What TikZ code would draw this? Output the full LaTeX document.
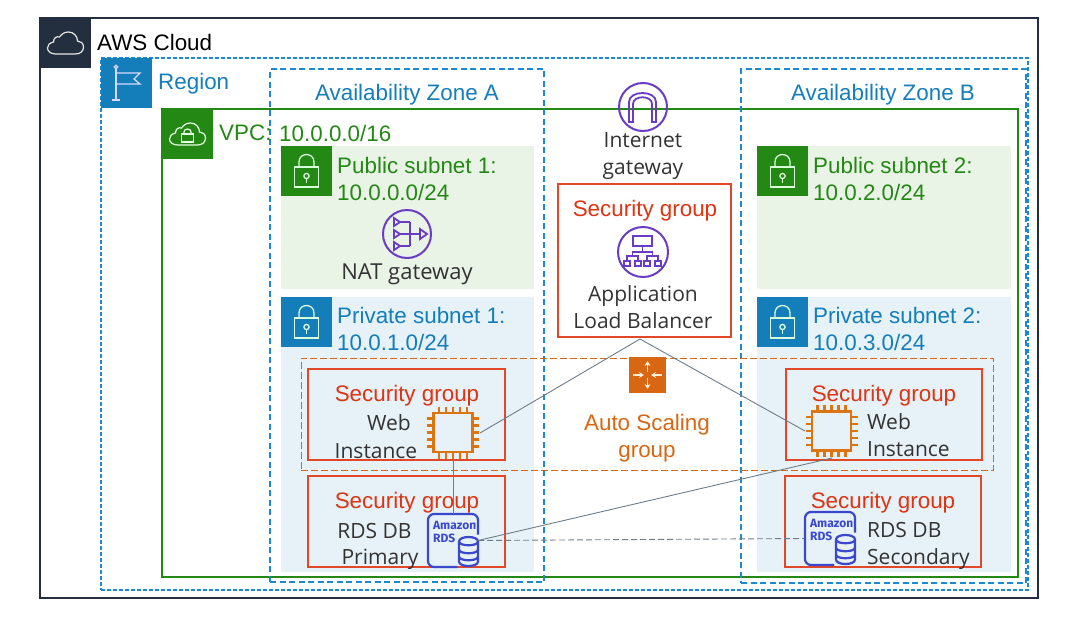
\documentclass[tikz,border=0pt]{standalone}
\usepackage{fontspec}
\setmainfont{Liberation Sans}
\newfontfamily\lightfont{Open Sans}
\newfontfamily\rdsfont{Fira Sans}
\usetikzlibrary{calc,arrows.meta}
\definecolor{awsnavy}{HTML}{232F3E}
\definecolor{awsblue}{HTML}{147EBA}
\definecolor{awsdash}{HTML}{1B8AD0}
\definecolor{awsgreen}{HTML}{248814}
\definecolor{awsred}{HTML}{DF3312}
\definecolor{awsorange}{HTML}{D86613}
\definecolor{awspurple}{HTML}{693CC5}
\definecolor{awsrds}{HTML}{3B48CC}
\definecolor{pubfill}{HTML}{E9F3E6}
\definecolor{privfill}{HTML}{E6F2F8}
\definecolor{linkgrey}{HTML}{6F7C8A}
\newcommand{\cbox}[6]{%
  \pgfmathsetmacro\cboxx{(#3+#5)/2}\pgfmathsetmacro\cboxy{(#4+#6)/2}%
  \pgfmathsetmacro\cboxw{#5-#3}\pgfmathsetmacro\cboxh{#6-#4}%
  \node[#2,minimum width=\cboxw pt,minimum height=\cboxh pt] (#1) at (\cboxx,\cboxy) {};}
\newcommand{\cloudpath}{(-10,11) -- (10,11) .. controls (15,11) and (18,8) .. (18,4) .. controls (18,0) and (15,-2) .. (12,-2) .. controls (12,-7) and (8,-11) .. (3,-11) .. controls (-1,-11) and (-4,-9) .. (-6,-6) .. controls (-9,-7) and (-12,-5) .. (-12,-1) .. controls (-16,0) and (-18,2) .. (-18,5) .. controls (-18,8) and (-15,11) .. (-10,11) -- cycle}
\newcommand{\lockicon}[2]{\begin{scope}[shift={(#1,#2)},white!85!green,line width=1.3pt]
  \draw (-12,-4) rectangle (12,16);
  \draw (-7.5,-4) -- (-7.5,-9) .. controls (-7.5,-19) and (7.5,-19) .. (7.5,-9) -- (7.5,-4);
  \draw (0,5) circle (2.6); \draw (0,7.6) -- (0,12);
\end{scope}}
\newcommand{\chipicon}[2]{\begin{scope}[shift={(#1,#2)},awsorange!90!yellow,line width=2.6pt]
  \draw (-19.5,-19.5) rectangle (19.5,19.5);
  \foreach \p in {-14,-7,0,7,14}{
    \draw (\p,-19.5) -- (\p,-26); \draw (\p,19.5) -- (\p,26);
    \draw (-19.5,\p) -- (-26,\p); \draw (19.5,\p) -- (26,\p);}
\end{scope}}
\newcommand{\rdsshape}[2]{\begin{scope}[shift={(#1,#2)},awsrds,line width=2.2pt]
  \draw[rounded corners=6pt] (25,-6) -- (25,-26.5) -- (-25,-26.5) -- (-25,26.5) -- (4,26.5);
  \node[font=\rdsfont\bfseries\fontsize{12}{12}\selectfont,text=awsrds,inner sep=0,anchor=west] at (-21,-15.5) {Amazon};
  \node[font=\rdsfont\bfseries\fontsize{12}{12}\selectfont,text=awsrds,inner sep=0,anchor=west] at (-21,-2) {RDS};
  \draw (6,1) .. controls (6,-5) and (25,-5) .. (25,1) -- (25,21) .. controls (25,27) and (6,27) .. (6,21) -- cycle;
  \draw (6,1) .. controls (6,6) and (25,6) .. (25,1);
  \draw (6,9) .. controls (6,14) and (25,14) .. (25,9);
  \draw (6,16) .. controls (6,21) and (25,21) .. (25,16);
\end{scope}}
\tikzset{
  box/.style={inner sep=0,outer sep=0,rectangle},
  outerline/.style={box,draw=awsnavy,line width=1.1pt},
  regionline/.style={box,draw=awsdash,dash pattern=on 4pt off 2pt,line width=1.3pt},
  azline/.style={box,draw=awsdash,dash pattern=on 6pt off 3.5pt,line width=1.3pt},
  vpcline/.style={box,draw=awsgreen,line width=1.1pt},
  pubnet/.style={box,fill=pubfill},
  privnet/.style={box,fill=privfill},
  sgline/.style={box,draw=awsred!90!white,line width=1.3pt},
  asgline/.style={box,draw=awsorange,dash pattern=on 7pt off 3pt,line width=1pt},
  hdnavy/.style={box,fill=awsnavy},
  hdblue/.style={box,fill=awsblue},
  hdgreen/.style={box,fill=awsgreen},
  hdorange/.style={box,fill=awsorange},
  iconbox/.style={box},
  purplecircle/.style={circle,draw=awspurple,line width=2pt,inner sep=0,outer sep=0},
  lab/.style={inner sep=0,font=\fontsize{22.4}{27}\selectfont,align=left},
  labl/.style={lab,anchor=west},
  bluet/.style={text=awsblue},
  greent/.style={text=awsgreen},
  redt/.style={lab,text=awsred},
  oranget/.style={lab,text=awsorange,align=center},
  light/.style={inner sep=0,font=\lightfont\fontsize{21}{27}\selectfont,text=black!80},
  link/.style={draw=linkgrey,line width=0.9pt},
  linkdash/.style={link,dash pattern=on 6pt off 3pt},
}
\begin{document}
\begin{tikzpicture}[x=1pt,y=-1pt]
\useasboundingbox (0,0) rectangle (1073,630);
% containers
\cbox{cloud}{outerline}{40}{18}{1038}{598}
\cbox{region}{regionline}{101}{58}{1028}{590}
\cbox{vpc}{vpcline}{162}{109}{1018}{577}
\cbox{pub1}{pubnet}{281}{146}{534}{289}
\cbox{priv1}{privnet}{281}{297}{534}{572}
\cbox{pub2}{pubnet}{757}{146}{1011}{289}
\cbox{priv2}{privnet}{757}{297}{1011}{572}
\cbox{aza}{azline}{270}{69}{544}{582}
\cbox{azb}{azline}{741}{69}{1026}{583}
\cbox{sgweba}{sgline}{308}{369}{505}{460}
\cbox{sgdba}{sgline}{308}{476}{505}{567}
\cbox{sgalb}{sgline}{558}{184}{731}{337}
\cbox{sgwebb}{sgline}{786}{369}{982}{460}
\cbox{sgdbb}{sgline}{785}{476}{981}{567}
\cbox{asg}{asgline}{301}{358}{993}{470}
% header squares
\cbox{hcloud}{hdnavy}{40}{18}{91}{68}
\cbox{hregion}{hdblue}{101}{58}{152}{108}
\cbox{hvpc}{hdgreen}{162}{109}{213}{159}
\cbox{hpub1}{hdgreen}{281}{146}{332}{196}
\cbox{hpub2}{hdgreen}{757}{146}{808}{196}
\cbox{hpriv1}{hdblue}{281}{297}{332}{347}
\cbox{hpriv2}{hdblue}{757}{297}{808}{347}
\cbox{hasg}{hdorange}{629}{357}{666}{393}
% header glyphs
\begin{scope}[shift={(65.5,43)},white!90!black,line width=1.2pt]
  \draw \cloudpath;
\end{scope}
\begin{scope}[white!85!blue,line width=1.3pt]
  \draw (116,68) -- (116,100); \draw (112,100) -- (120,100);
  \fill[awsblue] (116,67) circle (1.8); \draw (116,67) circle (1.8);
  \draw (116,73) -- (140,73) -- (134,79) -- (140,84) -- (116,84);
\end{scope}
\begin{scope}[shift={(187.5,134)},white!90!green,line width=1.2pt]
  \draw \cloudpath;
  \draw (-6,0) rectangle (6,8);
  \draw (-3.5,0) -- (-3.5,-2) .. controls (-3.5,-6) and (3.5,-6) .. (3.5,-2) -- (3.5,0);
\end{scope}
\lockicon{306.5}{171}
\lockicon{782.5}{171}
\lockicon{306.5}{322}
\lockicon{782.5}{322}
% orange scaling arrows
\begin{scope}[white!85!orange,line width=1.3pt,-{Stealth[length=5pt,width=6pt]}]
  \draw (647.5,372) -- (647.5,361);
  \draw (647.5,378) -- (647.5,389);
  \draw (633,375) -- (644,375);
  \draw (662,375) -- (651,375);
\end{scope}
% purple icons
\node[purplecircle,minimum size=48pt] (igw) at (643,107) {};
\begin{scope}[awspurple,line width=1.8pt]
  \draw (629,122) -- (629,102) .. controls (629,90) and (656,90) .. (656,102) -- (656,122) -- (652,122) -- (652,104) .. controls (652,95) and (633,95) .. (633,104) -- (633,122) -- cycle;
\end{scope}
\node[purplecircle,minimum size=50pt] (albicon) at (643,252) {};
\begin{scope}[awspurple,line width=1.8pt]
  \draw (633,236) rectangle (652,246);
  \draw (642.5,246) -- (642.5,252) (632.5,256) -- (632.5,252) -- (652.5,252) -- (652.5,256);
  \draw (627,261) -- (627,256) -- (638,256) -- (638,261) (647,261) -- (647,256) -- (658,256) -- (658,261);
  \foreach \q in {627,638,647,658}{\draw (\q-3,261) rectangle (\q+3,266);}
\end{scope}
\node[purplecircle,minimum size=48pt] (nat) at (407,234) {};
\begin{scope}[awspurple,line width=1.8pt]
  \foreach \q in {222,234,246}{
    \draw (394,\q-4) -- (400,\q) -- (394,\q+4) -- cycle;
    \draw (400,\q) -- (410,\q);}
  \draw (410,222) -- (410,246);
  \draw (410,234) -- (420,234);
  \draw (420,229) -- (427,234) -- (420,239) -- cycle;
\end{scope}
% compute and database icons
\node[iconbox,minimum width=54pt,minimum height=54pt] (ec2a) at (453,433) {};
\node[iconbox,minimum width=54pt,minimum height=54pt] (ec2b) at (832,431) {};
\node[iconbox,minimum width=50pt,minimum height=53pt] (rdsa) at (453,540.5) {};
\node[iconbox,minimum width=52pt,minimum height=53pt] (rdsb) at (830,538.5) {};
\chipicon{453}{432.5}
\chipicon{831.5}{431}
\rdsshape{453}{540.5}
\rdsshape{830}{538.5}
% connectors
\coordinate (albfoot) at ($(sgalb.south)+(-4.5,2)$);
\draw[link] (albfoot) -- (ec2a.east);
\draw[link] (albfoot) -- (ec2b.west);
\draw[link] (ec2a.south) -- (rdsa.north);
\draw[link] (rdsa.east) -- (ec2b.south);
\draw[linkdash] (rdsa.east) -- (rdsb.west);
% labels
\node[labl,text=black] (tcloud) at (97,42) {AWS Cloud};
\node[labl,bluet] (tregion) at (158,83.5) {Region};
\node[labl,greent] (tvpc) at (219,133) {VPC:};
\node[labl,greent] (tvpcip) at (279,133) {10.0.0.0/16};
\node[lab,bluet] (taza) at (407,95) {Availability Zone A};
\node[lab,bluet] (tazb) at (883,95) {Availability Zone B};
\node[labl,greent] (tpub1) at (337,178.5) {Public subnet 1:\\10.0.0.0/24};
\node[labl,greent] (tpub2) at (813,178.5) {Public subnet 2:\\10.0.2.0/24};
\node[labl,bluet] (tpriv1) at (337,329) {Private subnet 1:\\10.0.1.0/24};
\node[labl,bluet] (tpriv2) at (813,329) {Private subnet 2:\\10.0.3.0/24};
\node[redt] (s1) at (407,396) {Security group};
\node[redt] (s2) at (407,503) {Security group};
\node[redt] (s3) at (645,211) {Security group};
\node[redt] (s4) at (884,396) {Security group};
\node[redt] (s5) at (883,503) {Security group};
\node[oranget] (tasg) at (647,438) {Auto Scaling\\group};
\node[light,align=center] (tigw) at (643,156) {Internet\\gateway};
\node[light,align=center] (talb) at (643,307) {Application\\Load Balancer};
\node[light,font=\lightfont\fontsize{22}{27}\selectfont] (tnat) at (407,274) {NAT gateway};
\node[light] (tweb1) at (389,423) {Web};
\node[light] (tinst1) at (376,451) {Instance};
\node[light] (tdb1) at (374.5,531) {RDS DB};
\node[light] (tprim) at (380,559) {Primary};
\node[light,align=left,anchor=west] (twebb) at (867,435) {Web\\Instance};
\node[light,align=left,anchor=west] (tdbb) at (867,545.5) {RDS DB\\Secondary};
\end{tikzpicture}
\end{document}
